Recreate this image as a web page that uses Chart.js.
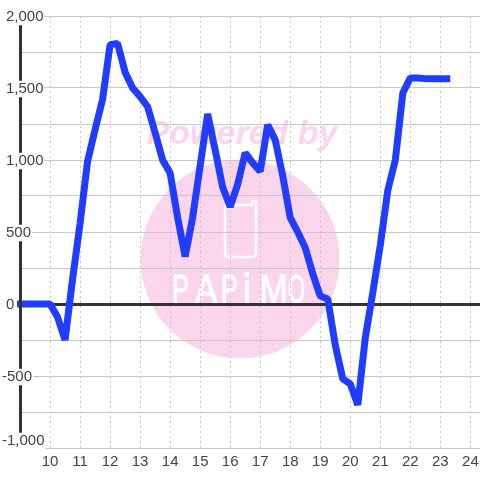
<!DOCTYPE html>
<html>
<head>
<meta charset="utf-8">
<style>
html, body { margin: 0; padding: 0; background: #fff; }
#wrap { width: 480px; height: 480px; position: relative; }
</style>
<script src="https://cdn.jsdelivr.net/npm/chart.js@4"></script>
</head>
<body>
<div id="wrap"><canvas id="chart" width="480" height="480"></canvas></div>
<script>
'use strict'
var hours = [8.9, 9.25, 9.5, 9.75, 10, 10.25, 10.5, 10.75, 11, 11.25, 11.5, 11.75, 12, 12.25, 12.5, 12.75, 13, 13.25, 13.5, 13.75, 14, 14.25, 14.5, 14.75, 15, 15.25, 15.5, 15.75, 16, 16.25, 16.5, 16.75, 17, 17.25, 17.5, 17.75, 18, 18.25, 18.5, 18.75, 19, 19.25, 19.5, 19.75, 20, 20.25, 20.5, 20.75, 21, 21.25, 21.5, 21.75, 22, 22.25, 22.5, 22.75, 23, 23.33];
var values = [0, 0, 0, 0, 0, -90, -250, 170, 560, 990, 1210, 1420, 1800, 1810, 1610, 1500, 1440, 1370, 1190, 1000, 910, 600, 330, 600, 960, 1320, 1070, 810, 675, 830, 1050, 980, 920, 1245, 1140, 890, 600, 500, 390, 210, 55, 35, -285, -520, -555, -700, -235, 80, 410, 790, 1000, 1465, 1570, 1570, 1565, 1565, 1565, 1565];
var posTicks = [2000, 1500, 1000, 500, 0];
var negTicks = [-500];
var bottomTicks = [-1000];

var fontFamily = '"Liberation Sans", Arial, sans-serif';

// watermark sits behind the grid
var watermark = {
    id: 'watermark',
    beforeDraw: function (chart) {
        var ctx = chart.ctx;
        ctx.save();
        ctx.fillStyle = '#fff';
        ctx.fillRect(0, 0, 480, 480);
        ctx.fillStyle = '#fbd5ec';
        ctx.beginPath();
        ctx.arc(240, 259, 99.5, 0, Math.PI * 2);
        ctx.fill();
        ctx.font = 'italic bold 34px ' + fontFamily;
        ctx.textAlign = 'center';
        ctx.textBaseline = 'middle';
        ctx.fillText('Powered by', 242, 135);

        // phone outline
        ctx.strokeStyle = '#fff';
        ctx.lineWidth = 2.5;
        ctx.lineJoin = 'round';
        ctx.beginPath();
        ctx.moveTo(225, 208);
        ctx.lineTo(225, 253);
        ctx.quadraticCurveTo(225, 257, 229, 257);
        ctx.lineTo(251, 257);
        ctx.quadraticCurveTo(256, 257, 256, 253);
        ctx.lineTo(256, 201);
        ctx.lineTo(252, 201);
        ctx.lineTo(252, 205);
        ctx.lineTo(228, 205);
        ctx.quadraticCurveTo(225, 205, 225, 208);
        ctx.stroke();

        // logo letters, squeezed so they come out tall and narrow
        ctx.fillStyle = '#fff';
        ctx.lineWidth = 1;
        ctx.font = '40px ' + fontFamily;
        ctx.textAlign = 'left';
        ctx.textBaseline = 'alphabetic';
        var letters = [['P', 172, 0.63], ['A', 195, 0.83], ['P', 221, 0.63], ['i', 243, 0.85], ['M', 259.5, 0.85], ['O', 288, 0.55]];
        letters.forEach(function (l) {
            ctx.save();
            ctx.translate(l[1], 303);
            ctx.scale(l[2], 1);
            ctx.fillText(l[0], 0, 0);
            ctx.strokeText(l[0], 0, 0);
            ctx.restore();
        });
        ctx.restore();
    }
};

function tickLabel(v) {
    var s = Math.abs(v).toLocaleString('en-US');
    return v < 0 ? '-' + s : s;
}

// tick label only axis, shift moves its labels off the grid line a bit
function labelAxis(list, pad, shift) {
    return {
        type: 'linear',
        position: 'left',
        weight: 0,
        min: -1000 + shift,
        max: 2000 + shift,
        afterBuildTicks: function (scale) {
            scale.ticks = list.map(function (v) { return { value: v }; });
        },
        afterFit: function (scale) { scale.width = 0; },
        grid: { display: false, drawTicks: false },
        border: { display: false },
        ticks: {
            mirror: true,
            crossAlign: 'near',
            padding: pad,
            z: 2,
            color: '#444',
            font: { family: fontFamily, size: 15, lineHeight: 1.1 },
            showLabelBackdrop: true,
            backdropColor: '#fff',
            backdropPadding: { left: 1, right: 1, top: 0, bottom: 0 },
            callback: tickLabel
        }
    };
}

new Chart(document.getElementById('chart'), {
    type: 'line',
    data: {
        datasets: [{
            data: hours.map(function (h, i) { return { x: h, y: values[i] }; }),
            yAxisID: 'y',
            borderColor: '#1f3cff',
            borderWidth: 7,
            borderJoinStyle: 'bevel',
            pointRadius: 0,
            tension: 0,
            clip: false
        }]
    },
    options: {
        responsive: false,
        animation: false,
        layout: { padding: { top: 16, right: 0, bottom: 0, left: 0 } },
        plugins: { legend: { display: false }, tooltip: { enabled: false } },
        scales: {
            x: {
                type: 'linear',
                min: 9,
                max: 24.32,
                afterFit: function (scale) {
                    scale.height = 32;
                    scale.paddingLeft = 0;
                    scale.paddingRight = 0;
                },
                grid: {
                    drawTicks: false,
                    color: function (c) { return c.tick.value === 9 ? 'rgba(0,0,0,0)' : '#c8c8c8'; },
                    lineWidth: 1
                },
                border: { display: false, dash: [2, 3] },
                ticks: {
                    stepSize: 1,
                    includeBounds: false,
                    autoSkip: false,
                    maxRotation: 0,
                    padding: 5,
                    color: '#444',
                    font: { family: fontFamily, size: 15 },
                    callback: function (v) { return v === 9 ? '' : String(v); }
                }
            },
            y: {
                type: 'linear',
                position: 'left',
                weight: 1,
                min: -1000,
                max: 2000,
                afterFit: function (scale) { scale.width = 20; },
                grid: {
                    drawTicks: false,
                    color: function (c) { return c.tick.value === 0 ? '#333' : '#c8c8c8'; },
                    lineWidth: function (c) { return c.tick.value === 0 ? 3 : 1; }
                },
                border: { display: true, color: '#333', width: 3, z: 1 },
                ticks: { display: false, stepSize: 250 }
            },
            yPos: labelAxis(posTicks, -14, 7),
            yNeg: labelAxis(negTicks, -18, 7),
            yBottom: labelAxis(bottomTicks, -18, -48.6)
        }
    },
    plugins: [watermark]
});
</script>
</body>
</html>
